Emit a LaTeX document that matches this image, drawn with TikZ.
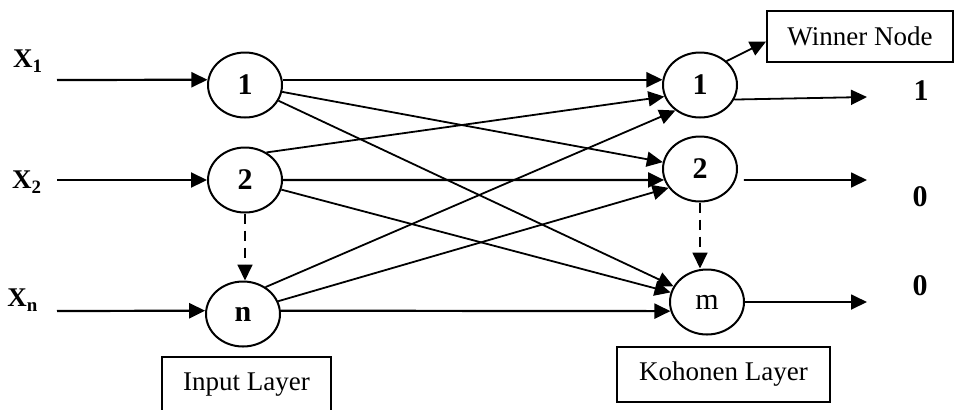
\documentclass[tikz,border=0pt]{standalone}
\usepackage{fontspec}
\setmainfont{Liberation Serif}
\usetikzlibrary{arrows.meta,shapes.geometric}
\tikzset{neuron/.style={draw,ellipse,line width=1pt,minimum width=37pt,minimum height=32.5pt,inner sep=0pt,font=\fontsize{15}{18}\selectfont\bfseries}}
\tikzset{layerbox/.style={draw,rectangle,line width=0.9pt,inner sep=0pt,font=\fontsize{13.5}{16}\selectfont}}
\tikzset{sig/.style={font=\fontsize{13.5}{16}\selectfont\bfseries}}
\tikzset{conn/.style={-{Triangle[length=8pt,width=7.5pt]},line width=0.9pt}}

\begin{document}
\begin{tikzpicture}[x=0.5pt,y=-0.5pt]
    \useasboundingbox (0,0) rectangle (954,409);
    % input layer
    \node [neuron] (i1) at (245,85) {1};
    \node [neuron] (i2) at (245,180) {2};
    \node [neuron] (in) at (243,314) {n};
    % kohonen layer
    \node [neuron] (k1) at (700,85) {1};
    \node [neuron] (k2) at (700,169) {2};
    \node [neuron,font=\fontsize{15}{18}\selectfont] (km) at (707,302) {m};
    % boxes
    \node [layerbox,minimum width=84.5pt,minimum height=28pt] (inlayer) at (246.5,385) {Input Layer};
    \node [layerbox,minimum width=106.5pt,minimum height=27.5pt] (kolayer) at (723.5,374.5) {Kohonen Layer};
    \node [layerbox,minimum width=93pt,minimum height=25.5pt] (win) at (860,36.5) {Winner Node};
    % inputs
    \node [sig] (x1) at (28,61) {X\textsubscript{1}};
    \node [sig] (x2) at (27,182) {X\textsubscript{2}};
    \node [sig] (xn) at (23,300) {X\textsubscript{n}};
    \coordinate (s1) at (57,80);
    \coordinate (s2) at (57,180);
    \coordinate (sn) at (57,311);
    \draw [conn,line width=1.1pt] (s1) -- (i1.172);
    \draw [conn,line width=1.1pt] (s2) -- (i2.west);
    \draw [conn,line width=1.1pt] (sn) -- (in.175);
    % outputs
    \node [sig,font=\fontsize{15}{18}\selectfont\bfseries] (y1) at (921,90.5) {1};
    \node [sig,font=\fontsize{15}{18}\selectfont\bfseries] (y2) at (920,196.5) {0};
    \node [sig,font=\fontsize{15}{18}\selectfont\bfseries] (ym) at (920,285.5) {0};
    \coordinate (o1) at (867,97);
    \coordinate (o2) at (867,180);
    \coordinate (om) at (867,302);
    \draw [conn] (k1.-23) -- (o1);
    \draw [conn] ([xshift=4pt]k2.-17) -- (o2);
    \draw [conn] (km.east) -- (om);
    \draw [conn] (k1.42) -- ([yshift=-2.5pt]win.west);
    % weights
    \draw [conn,line width=1.1pt] (i1.8) -- (k1.172);
    \draw [conn] (i1) -- (k2);
    \draw [conn] (i1) -- (km);
    \draw [conn] (i2.52) -- (k1.198);
    \draw [conn,line width=1.1pt] (i2.east) -- (k2.197);
    \draw [conn] (i2) -- (km);
    \draw [conn] (in.50) -- (k1.226);
    \draw [conn] (in.20) -- (k2.211);
    \draw [conn,line width=1.1pt] (in.5) -- (km.194);
    % dashed links
    \draw [conn,dash pattern=on 5pt off 3.5pt] (i2.south) -- (i2.south |- in.north);
    \draw [conn,dash pattern=on 5pt off 3.5pt] (k2.south) -- (k2.south |- km.north);
\end{tikzpicture}
\end{document}
